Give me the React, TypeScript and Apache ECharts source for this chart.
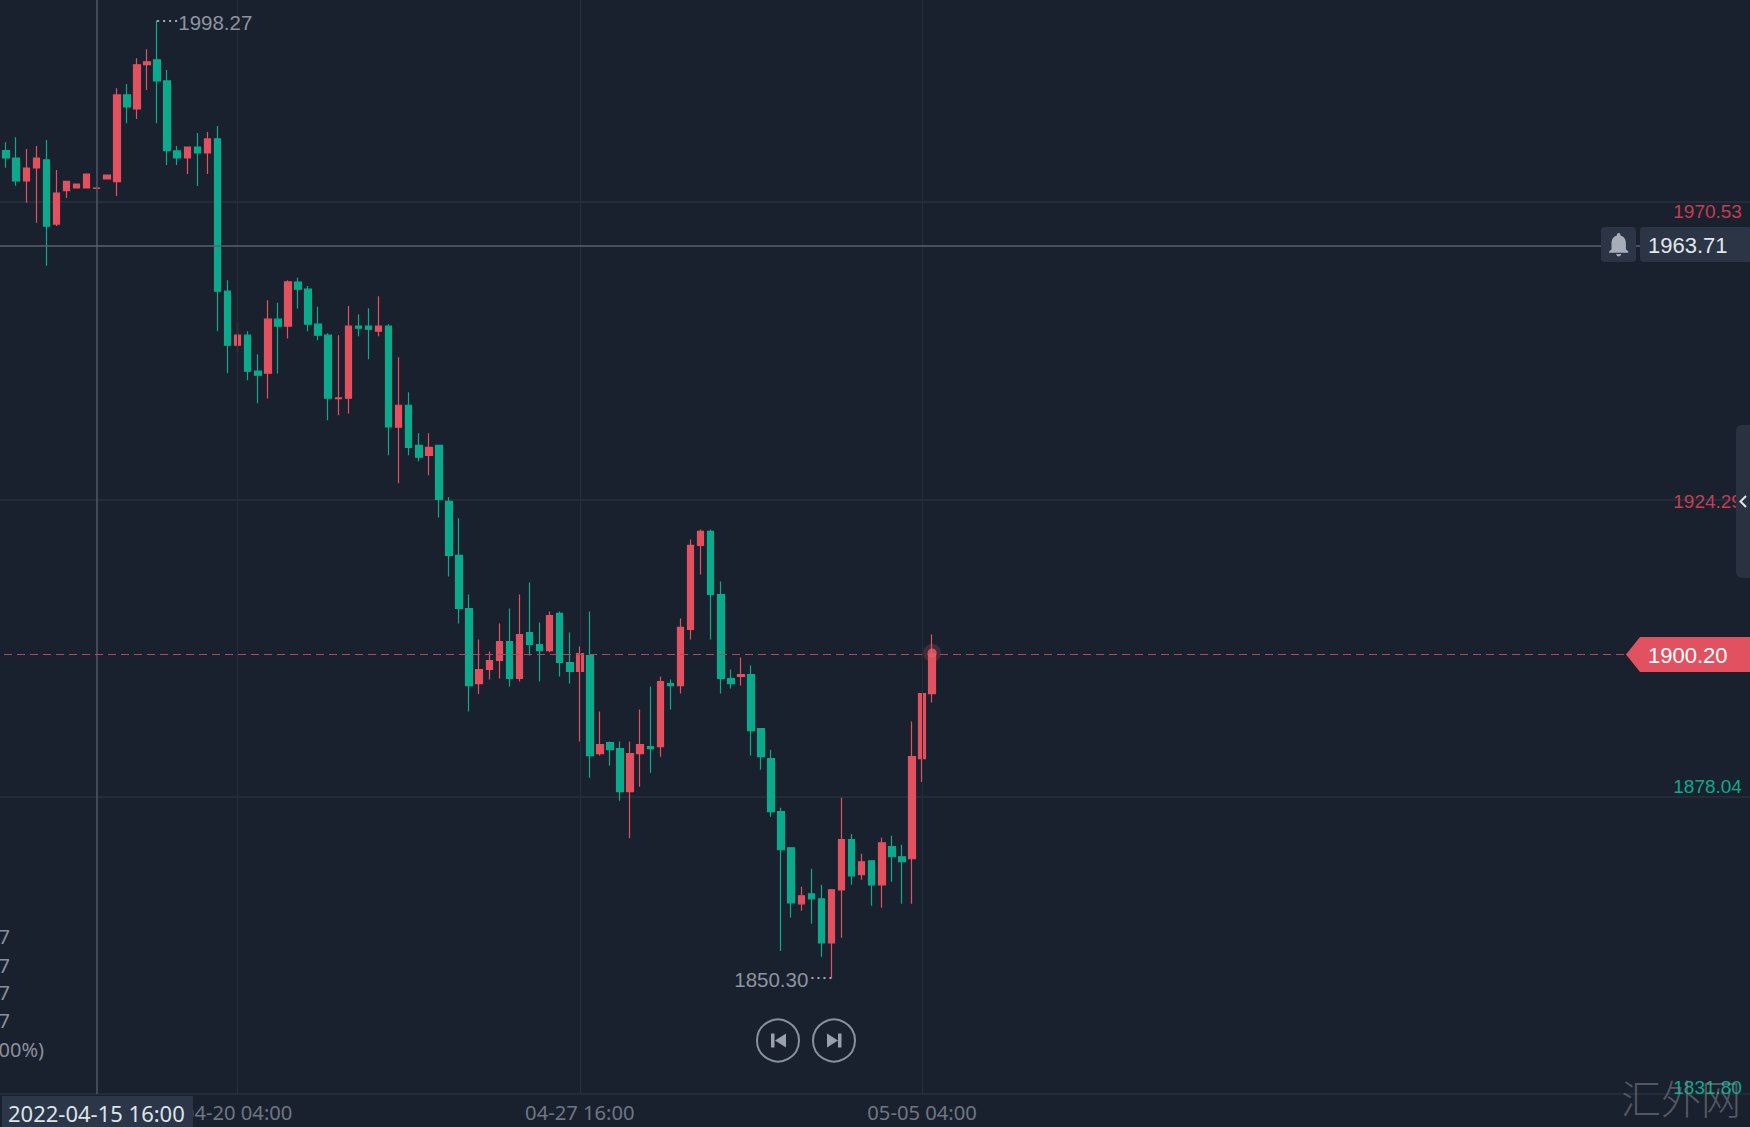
import React, { useEffect, useRef } from "react";
import * as echarts from "echarts";

const openPrices = [1978.52,1977.38,1973.80,1975.82,1977.07,1967.10,1972.29,1972.71,1972.71,1972.66,1974.11,1973.69,1987.19,1985.01,1991.91,1992.64,1989.37,1978.47,1977.38,1979.09,1978.16,1980.34,1956.67,1948.26,1949.82,1944.22,1943.90,1952.31,1951.22,1958.07,1956.98,1951.53,1949.82,1939.96,1940.01,1951.22,1951.22,1950.44,1951.22,1935.50,1938.92,1932.69,1931.14,1932.69,1923.97,1915.57,1907.31,1895.64,1897.82,1899.22,1902.18,1896.42,1903.58,1901.71,1900.77,1906.54,1898.91,1897.51,1900.00,1884.74,1886.45,1885.52,1878.82,1884.74,1885.83,1885.83,1895.64,1895.33,1904.04,1917.12,1919.30,1909.49,1896.42,1896.73,1897.04,1888.63,1883.96,1875.71,1870.10,1861.38,1862.94,1862.16,1855.31,1863.56,1871.35,1865.90,1868.08,1864.34,1870.26,1868.70,1868.39,1883.96,1894.08];
const closePrices = [1977.38,1973.80,1975.82,1977.38,1966.79,1971.93,1973.75,1973.33,1974.89,1972.70,1974.73,1987.19,1985.32,1991.86,1992.33,1989.37,1978.52,1977.38,1979.09,1978.16,1980.34,1956.67,1948.26,1949.82,1944.22,1943.59,1952.31,1951.22,1958.12,1956.98,1951.53,1949.82,1940.01,1940.06,1951.22,1950.91,1950.75,1951.22,1935.55,1938.92,1932.38,1930.83,1932.38,1924.29,1915.57,1907.31,1895.33,1897.82,1899.22,1902.18,1896.42,1903.27,1901.71,1900.77,1906.22,1898.91,1897.51,1900.31,1884.43,1886.14,1885.36,1878.82,1884.74,1886.14,1885.52,1895.95,1895.33,1904.36,1917.12,1919.30,1909.49,1896.42,1895.64,1897.04,1888.32,1884.27,1875.71,1869.79,1861.54,1862.63,1862.16,1855.31,1863.56,1871.35,1865.74,1867.92,1864.34,1870.88,1868.70,1867.92,1884.27,1894.08,1900.20];
const lowPrices = [1975.87,1973.07,1970.42,1967.31,1960.62,1966.79,1971.15,1972.71,1972.71,1972.66,1974.11,1971.46,1982.78,1983.45,1987.97,1982.78,1976.29,1976.29,1974.89,1973.02,1974.89,1950.44,1943.90,1947.23,1942.81,1939.23,1939.96,1943.85,1949.30,1953.97,1950.44,1949.04,1936.59,1937.36,1937.62,1949.66,1946.08,1949.66,1931.14,1926.78,1931.14,1930.20,1928.02,1921.48,1912.30,1904.98,1891.28,1894.03,1896.26,1896.42,1895.17,1895.95,1900.00,1895.95,1900.52,1896.73,1895.64,1886.61,1881.00,1884.43,1882.87,1877.42,1871.56,1879.60,1881.78,1884.27,1891.59,1894.08,1902.49,1912.61,1902.49,1894.08,1894.86,1895.33,1884.43,1882.25,1874.93,1854.06,1859.25,1860.29,1858.27,1853.13,1849.91,1856.09,1864.34,1865.12,1861.07,1860.76,1864.81,1861.38,1861.38,1880.33,1892.68];
const highPrices = [1979.82,1980.60,1978.78,1979.25,1980.18,1975.51,1973.75,1973.33,1974.89,1972.70,1974.73,1988.23,1988.90,1992.90,1994.30,1998.76,1991.08,1979.25,1979.09,1981.27,1981.43,1982.36,1958.38,1951.84,1950.44,1946.86,1955.27,1954.85,1958.38,1958.75,1957.45,1954.23,1950.13,1949.82,1954.34,1953.09,1954.02,1955.89,1951.53,1946.40,1940.95,1934.56,1934.56,1932.69,1924.60,1921.33,1909.49,1902.49,1900.62,1904.98,1907.31,1909.49,1911.36,1905.13,1906.85,1906.85,1903.58,1901.40,1906.85,1891.28,1886.61,1886.61,1886.61,1891.59,1895.17,1896.73,1896.26,1905.76,1918.06,1919.61,1919.61,1911.52,1897.82,1899.69,1898.44,1888.63,1885.36,1876.33,1870.10,1864.03,1866.83,1864.34,1863.67,1877.89,1872.23,1869.17,1868.08,1871.66,1871.97,1870.57,1889.72,1894.08,1903.27];

const gridLevels = [1831.8, 1878.04, 1924.29, 1970.53];
// Slot 0 of the category axis is an empty slot off the left edge, so candle 0 sits in slot 1.
const xTickIndices = [24, 58, 92];
const xTickLabels = ["04-20 04:00", "04-27 16:00", "05-05 04:00"];
const crosshairIndex = 10;
const crosshairLabel = "2022-04-15 16:00";
const alertPrice = 1963.71;
const lastPrice = 1900.2;
const highLabel = "1998.27";
const lowLabel = "1850.30";
const highIndex = 16;
const lowIndex = 83;
const clippedLines = ["7", "7", "7", "7"];
const clippedChange = "00%)";
const watermark = "汇外网";

const slotCount = 175;
const categories = Array.from({ length: slotCount }, (_, i) => {
  const k = xTickIndices.indexOf(i);
  return k >= 0 ? xTickLabels[k] : String(i);
});

const BG = "#1a212e";
const RED = "#e2515f";
const GREEN = "#0caa8d";
const PANEL = "#2b3545";
const NUM_FONT = '"Liberation Sans", Arial, sans-serif';
const UI_FONT = '"Noto Sans", sans-serif';
const LABEL_SIZE = 19;

echarts.graphic.registerShape(
  "bellIcon",
  echarts.graphic.extendPath(
    "M12 22c1.1 0 2-.9 2-2h-4c0 1.1.9 2 2 2zm6-6v-5c0-3.07-1.63-5.64-4.5-6.32V4c0-.83-.67-1.5-1.5-1.5s-1.5.67-1.5 1.5v.68C7.64 5.36 6 7.92 6 11v5l-2 2v1h16v-1l-2-2z",
    {}
  )
);

export default function App() {
  const ref = useRef<HTMLDivElement>(null);
  useEffect(() => {
    document.body.style.margin = "0";
    const chart = echarts.init(ref.current!, null, { renderer: "svg" });
    const candles: any[] = [
      ["-", "-", "-", "-"],
      ...openPrices.map((o, i) => [o, closePrices[i], lowPrices[i], highPrices[i]]),
    ];
    const lastIndex = openPrices.length;
    const leftTexts = clippedLines.map((t, i) => ({
      type: "text",
      z: 50,
      style: {
        x: 10,
        y: [936, 965, 992, 1020][i],
        text: t,
        fill: "#8a909c",
        font: `20px ${UI_FONT}`,
        align: "right",
        verticalAlign: "middle",
      },
    }));
    chart.setOption({
      animation: false,
      backgroundColor: BG,
      grid: { left: 0.035, top: 0, width: 1761.4, height: 1094, containLabel: false },
      xAxis: {
        type: "category",
        data: categories,
        boundaryGap: true,
        axisLine: { show: false },
        axisTick: { show: false },
        splitLine: { show: false },
        axisLabel: {
          interval: (i: number) => xTickIndices.includes(i),
          color: "#6f7683",
          fontSize: 20.2,
          fontFamily: UI_FONT,
          margin: 8,
          hideOverlap: false,
        },
      },
      yAxis: {
        type: "value",
        position: "right",
        min: 1831.8,
        max: 2001.95,
        axisLine: { show: false },
        axisTick: { show: false, customValues: gridLevels },
        splitLine: { show: true, lineStyle: { color: "#27303c", width: 1.5 } },
        axisLabel: {
          inside: true,
          margin: 10.5,
          customValues: gridLevels,
          showMinLabel: true,
          showMaxLabel: true,
          fontFamily: NUM_FONT,
          fontSize: LABEL_SIZE,
          formatter: (v: number) => `{l${gridLevels.findIndex((g) => Math.abs(g - v) < 0.01)}|${v.toFixed(2)}}`,
          rich: {
            l0: { color: GREEN, fontFamily: NUM_FONT, fontSize: LABEL_SIZE, padding: [0, 0, 14, 0] },
            l1: { color: GREEN, fontFamily: NUM_FONT, fontSize: LABEL_SIZE, padding: [0, 0, 20, 0] },
            l2: { color: "#c63c52", fontFamily: NUM_FONT, fontSize: LABEL_SIZE, padding: [5, 0, 0, 0] },
            l3: { color: "#c63c52", fontFamily: NUM_FONT, fontSize: LABEL_SIZE, padding: [18, 0, 0, 0] },
          },
        },
      },
      series: [
        {
          type: "line",
          z: 1,
          data: [],
          silent: true,
          markLine: {
            silent: true,
            symbol: "none",
            animation: false,
            label: { show: false },
            data: [
              ...xTickIndices.map((i) => ({ xAxis: i, lineStyle: { color: "#262e3b", width: 1, type: "solid" } })),
              { xAxis: crosshairIndex, lineStyle: { color: "#525966", width: 1.5, type: "solid" } },
              { yAxis: alertPrice, lineStyle: { color: "#5a606c", width: 1.5, type: "solid" } },
            ],
          },
        },
        {
          type: "candlestick",
          z: 2,
          data: candles,
          barWidth: 7,
          itemStyle: { color: RED, color0: GREEN, borderColor: RED, borderColor0: GREEN, borderWidth: 1.2 },
          markLine: {
            silent: true,
            symbol: "none",
            animation: false,
            data: [
              [
                { coord: [highIndex, highPrices[highIndex - 1]] },
                {
                  coord: [highIndex + 2, highPrices[highIndex - 1]],
                  label: { show: true, position: "end", distance: 1, offset: [0, 2], formatter: highLabel, color: "#8d93a0", fontSize: 20.5, fontFamily: NUM_FONT },
                },
              ],
              [
                { coord: [lowIndex, lowPrices[lowIndex - 1]] },
                {
                  coord: [lowIndex - 2, lowPrices[lowIndex - 1]],
                  label: { show: true, position: "end", distance: 3, offset: [0, 2], formatter: lowLabel, color: "#8d93a0", fontSize: 20.5, fontFamily: NUM_FONT },
                },
              ],
            ],
            lineStyle: { color: "#d5d8de", width: 1.5, type: [2, 4] },
          },
        },
        {
          type: "line",
          z: 3,
          data: [],
          silent: true,
          markLine: {
            silent: true,
            symbol: "none",
            animation: false,
            label: { show: false },
            data: [{ yAxis: lastPrice, lineStyle: { color: "#b4485a", width: 1.2, type: [8, 5] } }],
          },
        },
        {
          type: "scatter",
          z: 4,
          silent: true,
          data: [[lastIndex, lastPrice + 0.2]],
          symbolSize: 18,
          itemStyle: { color: "rgba(226,81,95,0.28)" },
        },
        {
          type: "scatter",
          z: 5,
          silent: true,
          data: [[lastIndex, lastPrice + 0.2]],
          symbolSize: 9,
          itemStyle: { color: "#e8606c" },
        },
      ],
      graphic: [
        {
          type: "group",
          x: 9,
          y: 0,
          children: [
            ...leftTexts,
            { type: "text", z: 50, style: { x: 44, y: 1049, text: clippedChange, fill: "#8a909c", font: `20px ${UI_FONT}`, align: "right", verticalAlign: "middle" } },
            // crosshair time label
            { type: "rect", z: 50, shape: { x: 2, y: 1096, width: 191, height: 31 }, style: { fill: "#2b3648" } },
            { type: "text", z: 51, style: { x: 8, y: 1113, text: crosshairLabel, fill: "#dfe3ea", font: `22px ${UI_FONT}`, verticalAlign: "middle" } },
            // replay buttons
            { type: "circle", z: 50, shape: { cx: 778, cy: 1040.5, r: 21 }, style: { fill: "transparent", stroke: "#8a909c", lineWidth: 2 } },
            { type: "rect", z: 50, shape: { x: 771, y: 1033.5, width: 3.5, height: 14 }, style: { fill: "#9a9fae" } },
            { type: "polygon", z: 50, shape: { points: [[786, 1033.5], [786, 1047.5], [775, 1040.5]] }, style: { fill: "#9a9fae" } },
            { type: "circle", z: 50, shape: { cx: 834, cy: 1040.5, r: 21 }, style: { fill: "transparent", stroke: "#8a909c", lineWidth: 2 } },
            { type: "polygon", z: 50, shape: { points: [[827, 1033.5], [827, 1047.5], [838, 1040.5]] }, style: { fill: "#9a9fae" } },
            { type: "rect", z: 50, shape: { x: 838, y: 1033.5, width: 3.5, height: 14 }, style: { fill: "#9a9fae" } },
            // alert box
            { type: "rect", z: 50, shape: { x: 1601, y: 227, width: 35, height: 35, r: 4 }, style: { fill: PANEL } },
            { type: "bellIcon", z: 51, x: 1604.3, y: 230, scaleX: 1.2, scaleY: 1.2, style: { fill: "#a8adba" } },
            { type: "rect", z: 50, shape: { x: 1640, y: 227, width: 112, height: 35, r: 4 }, style: { fill: PANEL } },
            { type: "text", z: 51, style: { x: 1648, y: 245, text: alertPrice.toFixed(2), fill: "#e3e6ec", font: `22px ${NUM_FONT}`, verticalAlign: "middle" } },
            // last price tag
            { type: "polygon", z: 50, shape: { points: [[1626, 654.5], [1640, 637], [1752, 637], [1752, 672], [1640, 672]] }, style: { fill: RED } },
            { type: "text", z: 51, style: { x: 1648, y: 655, text: lastPrice.toFixed(2), fill: "#ffffff", font: `22px ${NUM_FONT}`, verticalAlign: "middle" } },
            // side handle
            { type: "rect", z: 50, shape: { x: 1736, y: 425, width: 20, height: 153, r: 6 }, style: { fill: "#2a3241" } },
            { type: "polyline", z: 51, shape: { points: [[1746, 496], [1740.5, 501.5], [1746, 507]] }, style: { stroke: "#e3e6ec", lineWidth: 2, fill: "none" } },
            // watermark
            { type: "text", z: 52, style: { x: 1681, y: 1097, text: watermark, fill: "rgba(140,142,150,0.5)", font: `300 40px "Noto Sans CJK SC", sans-serif`, align: "center", verticalAlign: "middle" } },
          ],
        },
      ],
    });
    return () => chart.dispose();
  }, []);
  return (
    <div style={{ position: "absolute", left: 0, top: 0, width: 1750, height: 1127, overflow: "hidden" }}>
      <div ref={ref} style={{ position: "absolute", left: -9, top: 0, width: 1765, height: 1127 }} />
    </div>
  );
}
